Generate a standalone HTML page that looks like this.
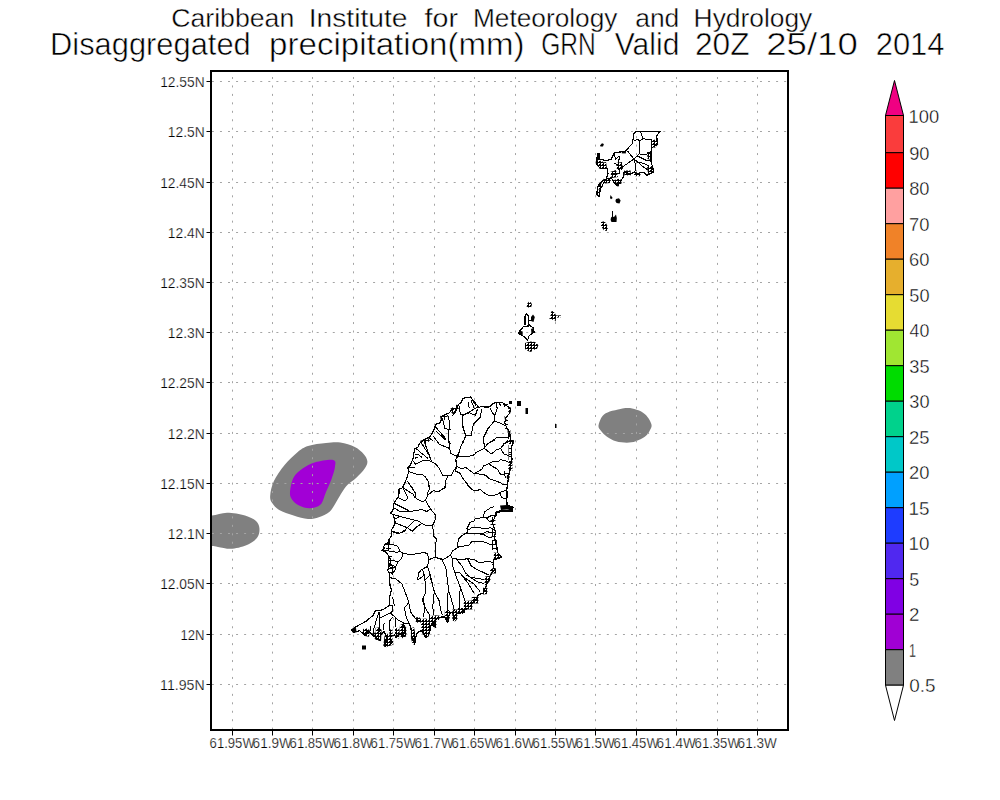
<!DOCTYPE html><html><head><meta charset="utf-8"><title>GrADS precipitation map</title><style>
html,body{margin:0;padding:0;background:#fff;width:1000px;height:800px;overflow:hidden}
svg{display:block}
text{font-family:"Liberation Sans",sans-serif;fill:#000}
</style></head><body>
<svg width="1000" height="800" viewBox="0 0 1000 800">
<rect width="1000" height="800" fill="#fff"/>
<text x="171.2" y="27.2" font-size="26.5" textLength="123.1" lengthAdjust="spacingAndGlyphs" stroke="#fff" stroke-width="0.4">Caribbean</text>
<text x="308.7" y="27.2" font-size="26.5" textLength="98.9" lengthAdjust="spacingAndGlyphs" stroke="#fff" stroke-width="0.4">Institute</text>
<text x="424.6" y="27.2" font-size="26.5" textLength="33.4" lengthAdjust="spacingAndGlyphs" stroke="#fff" stroke-width="0.4">for</text>
<text x="472.9" y="27.2" font-size="26.5" textLength="144.6" lengthAdjust="spacingAndGlyphs" stroke="#fff" stroke-width="0.4">Meteorology</text>
<text x="635.2" y="27.2" font-size="26.5" textLength="44.1" lengthAdjust="spacingAndGlyphs" stroke="#fff" stroke-width="0.4">and</text>
<text x="693.6" y="27.2" font-size="26.5" textLength="118.7" lengthAdjust="spacingAndGlyphs" stroke="#fff" stroke-width="0.4">Hydrology</text>
<text x="50" y="54.6" font-size="32" textLength="200.7" lengthAdjust="spacingAndGlyphs" stroke="#fff" stroke-width="0.55">Disaggregated</text>
<text x="269.1" y="54.6" font-size="32" textLength="255.5" lengthAdjust="spacingAndGlyphs" stroke="#fff" stroke-width="0.55">precipitation(mm)</text>
<text x="541.3" y="54.6" font-size="32" textLength="54.5" lengthAdjust="spacingAndGlyphs" stroke="#fff" stroke-width="0.55">GRN</text>
<text x="614.8" y="54.6" font-size="32" textLength="64.6" lengthAdjust="spacingAndGlyphs" stroke="#fff" stroke-width="0.55">Valid</text>
<text x="694.9" y="54.6" font-size="32" textLength="54.6" lengthAdjust="spacingAndGlyphs" stroke="#fff" stroke-width="0.55">20Z</text>
<text x="766.2" y="54.6" font-size="32" textLength="91.6" lengthAdjust="spacingAndGlyphs" stroke="#fff" stroke-width="0.55">25/10</text>
<text x="875.7" y="54.6" font-size="32" textLength="68.8" lengthAdjust="spacingAndGlyphs" stroke="#fff" stroke-width="0.55">2014</text>
<defs><pattern id="cl" width="3" height="3" patternUnits="userSpaceOnUse"><rect width="3" height="1" fill="#000"/><rect width="1" height="3" fill="#000"/><rect x="2" y="2" width="1" height="1" fill="#000"/></pattern><pattern id="cl2" width="4" height="4" patternUnits="userSpaceOnUse"><rect width="4" height="1" fill="#000"/><rect width="1" height="4" fill="#000"/></pattern><clipPath id="pa"><rect x="212" y="72" width="575" height="657"/></clipPath></defs>
<g clip-path="url(#pa)">
<path d="M270.2,495.6C270.5,492 271.4,486.3 273.8,481.2C276.2,476.1 280.7,469.8 284.6,465C288.5,460.2 293.3,455.6 297.2,452.4C301.1,449.2 303.2,447.6 308,446C312.8,444.4 320.6,443.6 326,443C331.4,442.4 335.6,441.8 340.4,442.5C345.2,443.2 350.9,445.1 354.8,447C358.7,448.9 361.7,451.8 363.8,454.2C365.9,456.6 367.2,459 367.4,461.4C367.5,463.8 366.5,465.9 364.7,468.6C362.9,471.3 359.5,474.9 356.6,477.6C353.8,480.3 350,482.4 347.6,484.8C345.2,487.2 344,489.3 342.2,492C340.4,494.7 338.9,497.7 336.8,501C334.7,504.3 332.6,509.1 329.6,511.8C326.6,514.5 322.4,516 318.8,517.2C315.2,518.4 312.2,519.3 308,519C303.8,518.7 298.4,516.9 293.6,515.4C288.8,513.9 282.8,512.1 279.2,510C275.6,507.9 273.5,505.2 272,502.8C270.5,500.4 269.9,499.2 270.2,495.6Z" fill="#808080"/>
<path d="M290,492C290.3,488.4 291.5,481.5 293.6,477.6C295.7,473.7 299,471.2 302.6,468.6C306.2,466.1 310.1,463.7 315.2,462.3C320.3,460.9 329.9,459.2 333.2,460C336.5,460.8 335.3,463.6 335,466.8C334.7,470 332.9,475.2 331.4,479.4C329.9,483.6 327.8,487.8 326,492C324.2,496.2 323.3,501.9 320.6,504.6C317.9,507.3 313.4,508.1 309.8,508.2C306.2,508.3 302,507 299,505.5C296,504 293.3,501.4 291.8,499.2C290.3,496.9 289.7,495.6 290,492Z" fill="rgb(162,0,214)"/>
<path d="M200,514C201.9,508.9 207.2,515.6 211.7,515.4C216.2,515.2 221.4,512.7 227,512.7C232.6,512.7 240.2,514 245,515.4C249.8,516.8 253.4,518.7 255.8,520.8C258.2,522.9 259.1,525.3 259.4,528C259.7,530.7 259.4,534.3 257.6,537C255.8,539.7 252.8,542.2 248.6,544.2C244.4,546.2 237.5,548.2 232.4,548.7C227.3,549.2 221.4,547.4 218,546.9C214.6,546.4 214.7,546.1 211.7,546C208.7,545.9 201.9,551.3 200,546C198.1,540.7 198.1,519.1 200,514Z" fill="#808080"/>
<path d="M598.5,425.6C598.8,423.2 600.6,418.4 602.5,416.1C604.4,413.8 606.7,412.8 609.7,411.6C612.7,410.4 617.6,409.5 620.5,408.9C623.4,408.3 624.8,408.1 626.8,408C628.8,407.9 629.8,407.9 632.2,408.5C634.6,409.1 638.7,410.2 641.2,411.6C643.8,413 645.8,414.8 647.5,417C649.2,419.2 651.3,422.7 651.6,425.1C651.9,427.5 650.4,429.4 649.3,431.4C648.2,433.3 647,435.1 644.8,436.8C642.5,438.5 638.8,440.3 635.8,441.3C632.8,442.3 630.1,442.7 626.8,442.7C623.5,442.7 619.3,442.3 616,441.3C612.7,440.3 609.5,438.6 607,436.8C604.5,435 602.1,432.4 600.7,430.5C599.3,428.6 598.2,428 598.5,425.6Z" fill="#808080"/>
</g>
<path d="M232.5,72V729M272.5,72V729M312.5,72V729M353.5,72V729M393.5,72V729M434.5,72V729M474.5,72V729M515.5,72V729M555.5,72V729M595.5,72V729M636.5,72V729M676.5,72V729M717.5,72V729M757.5,72V729" stroke="#a4a4a4" stroke-width="1" stroke-dasharray="2 6.45" stroke-dashoffset="3.45" fill="none"/>
<path d="M212,81.5H787M212,131.5H787M212,182.5H787M212,232.5H787M212,282.5H787M212,332.5H787M212,382.5H787M212,433.5H787M212,483.5H787M212,533.5H787M212,583.5H787M212,634.5H787M212,684.5H787" stroke="#a4a4a4" stroke-width="1" stroke-dasharray="2 6.06" stroke-dashoffset="0.12" fill="none"/>
<polyline points="391.9,529.1 394,525.6 395,521.4 394,517.2 392.9,514.4 390.5,513.3 392.9,510.2 393.3,507.4 394,503.2 396.1,499.7 398.2,497.6 398.9,494.1 398.9,489.2 402.4,487.8 404,484.8 405.4,481.3 406.8,478.5 408.9,470.8 407.5,467.3 410.3,465.2 411.7,461.7 413.1,458.2 413.8,454 414.5,449.1 418,447 419.4,443.5 421,441.9 425.2,439.1 429.4,437 431.5,434.2 434.3,429.3 435.7,424.4 440.6,422.6 442,416.7 443.4,415.3 449,413.2 451.8,409.7 456,408 458.8,404.1 461.6,402 462.8,398.5 464.2,398.1 470.5,397.1 474,401.3 478.9,407.6 481.7,406.2 483.8,406.9 489.4,406.9 492.2,404.1 495.7,402.3 502,402.3 505.5,404.8 508.3,406.9 510.4,408.3 509.7,413.2 507.6,415.3 505.5,418.8 504.8,423 506.2,426.5 508.3,430 509.7,432.8 510.4,437 510.4,440.5 513.1,441.4 511.7,447 511.7,454 512,459.6 511,463.8 509.6,469.4 508.9,475 508.2,479.2 507.5,484.8 506.8,489.5 507.1,494 506.8,500 507.1,505.3 513,507 512.5,511 500,511 496.3,511.3 494.8,517.3 492.5,522.5 494,527.8 495.5,531.5 494.5,537.5 496,543.5 497.5,548.8 497.5,552.5 501.3,557 498.3,558.5 493.8,560 493,564.5 494.5,570.5 492.3,572 489.3,577.3 487.5,582.5 485.3,588.5 483,593 477.8,595.3 477,599 474,601.3 471,605 468,608 463.5,611 460.5,613.3 456,614 454.5,617 453.8,620.8 453,612.5 449.3,613.3 447.8,623 444.8,617 441,617 436.5,619.3 433.5,623 435.8,627.5 431.3,624.5 430,630.7 428.3,635.8 425.8,637.5 421.5,630.7 417.3,632.4 415.6,637.5 414.7,644.3 412.2,639.2 411.3,630.7 409.6,623.9 403.7,623 404.5,630.7 402.8,635.8 399.4,634.1 396,637.5 394.3,635 390,635.8 391.8,642.6 389.2,645.2 385,646 386.7,636.7 384.1,631.6 380.7,635 379.9,640.9 377.3,638.4 373,635.8 368.8,630.7 364.6,635 359.5,630.7 353.5,632.4 351.8,629.9 357.8,625.6 362.9,623 367.1,620.5 373,615.4 375.6,610.3 380.7,610.3 385,608.6 389.2,605.2 390,595 391.5,590 390,585.5 389.7,580 389.7,573.4 387.6,570.6 389.7,565 391.1,560.1 389,556.6 386.2,552.4 382,550.3 384.8,548.2 383.4,546.8 386.2,543.3 389,542.6 389,539.1 391.4,536.3 391.9,529.1" fill="none" stroke="#000" stroke-width="1.2" stroke-linejoin="round" shape-rendering="crispEdges"/>
<polyline points="636.4,131.1 660,131.5 656.7,135.6 657.5,144.5 651.9,147.7 651,151.8 651,161.6 652.7,167.2 653.5,172.1 647,175.4 643.7,172.1 637.2,173.7 634,172.1 629.1,174.6 624.2,171.3 623.4,177 620.2,181.9 617,185.9 613.7,181.9 611.2,177.8 604.7,179.4 601.5,181.9 598.2,185.1 597.6,190 596.2,194.4 599.6,196.5 600,190 603,184 606,179 608,173.7 607.2,168.9 599.9,168 596.6,164 597.4,153.4 599,153.4 599,159.1 606.4,160.7 611.2,159.1 614.5,152.6 621.8,151.8 625.9,151 629.1,146.9 632.4,143.7 633.2,138 634,133.1 636.4,131.1" fill="none" stroke="#000" stroke-width="1.2" stroke-linejoin="round" shape-rendering="crispEdges"/>
<polyline points="518.4,332.9 523.4,326.5 530.5,325.8 533.4,327.9 534.1,332.2 529.1,335.7 527.7,340 524.1,336.5 519.8,334.3 518.4,332.9" fill="none" stroke="#000" stroke-width="1.2" stroke-linejoin="round" shape-rendering="crispEdges"/>
<polyline points="525,325 525,316 526.5,313.3 528.5,316 529,325" fill="none" stroke="#000" stroke-width="1.2" stroke-linejoin="round" shape-rendering="crispEdges"/>
<polyline points="462.3,415.3 463,426.5 465.8,435.6 462.3,444" fill="none" stroke="#000" stroke-width="1.0" stroke-linejoin="round" shape-rendering="crispEdges"/>
<polyline points="465.8,435.6 470,435" fill="none" stroke="#000" stroke-width="1.0" stroke-linejoin="round" shape-rendering="crispEdges"/>
<polyline points="458.8,404.1 460.2,413.2 463,415.3 467.2,413.2 470,411" fill="none" stroke="#000" stroke-width="1.0" stroke-linejoin="round" shape-rendering="crispEdges"/>
<polyline points="442,418.1 443.4,421.6 444.8,428.6 449,429.3 451,430" fill="none" stroke="#000" stroke-width="1.0" stroke-linejoin="round" shape-rendering="crispEdges"/>
<polyline points="447.6,414.6 449,419.5 449,430 448.3,439.8 450.4,444" fill="none" stroke="#000" stroke-width="1.0" stroke-linejoin="round" shape-rendering="crispEdges"/>
<polyline points="435.7,427.2 446.2,439.1" fill="none" stroke="#000" stroke-width="1.0" stroke-linejoin="round" shape-rendering="crispEdges"/>
<polyline points="436.4,431.4 445.5,439.8" fill="none" stroke="#000" stroke-width="1.0" stroke-linejoin="round" shape-rendering="crispEdges"/>
<polyline points="432.9,435.6 439.2,444" fill="none" stroke="#000" stroke-width="1.0" stroke-linejoin="round" shape-rendering="crispEdges"/>
<polyline points="429.4,438.4 432.9,440.5" fill="none" stroke="#000" stroke-width="1.0" stroke-linejoin="round" shape-rendering="crispEdges"/>
<polyline points="452.5,416 456,409" fill="none" stroke="#000" stroke-width="1.0" stroke-linejoin="round" shape-rendering="crispEdges"/>
<polyline points="453.9,414.6 458,407" fill="none" stroke="#000" stroke-width="1.0" stroke-linejoin="round" shape-rendering="crispEdges"/>
<polyline points="460,414.6 462.8,415.3 468.4,413.2 474,409 478.2,407" fill="none" stroke="#000" stroke-width="1.0" stroke-linejoin="round" shape-rendering="crispEdges"/>
<polyline points="462.8,415.3 462.8,427.2 465.6,435.6 462.8,444" fill="none" stroke="#000" stroke-width="1.0" stroke-linejoin="round" shape-rendering="crispEdges"/>
<polyline points="465.6,435.6 471.2,435.6 473.3,424.4 480.3,417.4 481.7,409" fill="none" stroke="#000" stroke-width="1.0" stroke-linejoin="round" shape-rendering="crispEdges"/>
<polyline points="468.4,412.5 475.4,415.3 477.5,409" fill="none" stroke="#000" stroke-width="1.0" stroke-linejoin="round" shape-rendering="crispEdges"/>
<polyline points="469.1,407.6 468.4,402" fill="none" stroke="#000" stroke-width="1.0" stroke-linejoin="round" shape-rendering="crispEdges"/>
<polyline points="471.2,400.6 474,407.6" fill="none" stroke="#000" stroke-width="1.0" stroke-linejoin="round" shape-rendering="crispEdges"/>
<polyline points="472.6,399.9 476.1,406.2" fill="none" stroke="#000" stroke-width="1.0" stroke-linejoin="round" shape-rendering="crispEdges"/>
<polyline points="490.1,408.3 492.9,413.2 495,415.3 494.3,420.9 488,428.6 483.1,438.4 483.1,444" fill="none" stroke="#000" stroke-width="1.0" stroke-linejoin="round" shape-rendering="crispEdges"/>
<polyline points="494.3,420.9 499.9,423 505.5,425.8" fill="none" stroke="#000" stroke-width="1.0" stroke-linejoin="round" shape-rendering="crispEdges"/>
<polyline points="495,415.3 497.1,408.3 496.4,402.7" fill="none" stroke="#000" stroke-width="1.0" stroke-linejoin="round" shape-rendering="crispEdges"/>
<polyline points="499.2,403.4 500.6,405.5" fill="none" stroke="#000" stroke-width="1.0" stroke-linejoin="round" shape-rendering="crispEdges"/>
<polyline points="487.3,444 497.8,437 506.9,437.7 510.4,435" fill="none" stroke="#000" stroke-width="1.0" stroke-linejoin="round" shape-rendering="crispEdges"/>
<polyline points="503.4,444 508.3,440.5" fill="none" stroke="#000" stroke-width="1.0" stroke-linejoin="round" shape-rendering="crispEdges"/>
<polyline points="463.4,440 459.2,451.2 457.8,456.8" fill="none" stroke="#000" stroke-width="1.0" stroke-linejoin="round" shape-rendering="crispEdges"/>
<polyline points="457.8,456.8 463.4,456.8 466.9,456.8 474.6,454.7 476,452.6 484.4,448.4 485.1,447 483,440" fill="none" stroke="#000" stroke-width="1.0" stroke-linejoin="round" shape-rendering="crispEdges"/>
<polyline points="485.1,447 487.9,443.5 494.9,440" fill="none" stroke="#000" stroke-width="1.0" stroke-linejoin="round" shape-rendering="crispEdges"/>
<polyline points="484.4,448.4 491.4,454 496.3,449.8 500.5,448.4 504,444.2 509.6,440.7" fill="none" stroke="#000" stroke-width="1.0" stroke-linejoin="round" shape-rendering="crispEdges"/>
<polyline points="500.5,448.4 504,454 508.2,455.4 511,454" fill="none" stroke="#000" stroke-width="1.0" stroke-linejoin="round" shape-rendering="crispEdges"/>
<polyline points="457.8,456.8 455,460.3" fill="none" stroke="#000" stroke-width="1.0" stroke-linejoin="round" shape-rendering="crispEdges"/>
<polyline points="456.4,459.6 457.1,466.6 462,468.7 465.5,467.3 473.9,473.6 481.6,469.4 483.7,465.9 488.6,463.8 494.2,461 498.4,461.7 500.5,459.6 508.2,461.7" fill="none" stroke="#000" stroke-width="1.0" stroke-linejoin="round" shape-rendering="crispEdges"/>
<polyline points="455,468 457.1,466.6" fill="none" stroke="#000" stroke-width="1.0" stroke-linejoin="round" shape-rendering="crispEdges"/>
<polyline points="488.6,463.8 492.8,466.6 497,468.7 500.5,474.3 504,474.3 508.2,472.9" fill="none" stroke="#000" stroke-width="1.0" stroke-linejoin="round" shape-rendering="crispEdges"/>
<polyline points="473.9,473.6 483,474.3 487.2,476.4 488.6,478.5 500.5,482.7 502.6,484.8 507.5,484.8" fill="none" stroke="#000" stroke-width="1.0" stroke-linejoin="round" shape-rendering="crispEdges"/>
<polyline points="455,470.8 460.6,473.6 462,477.1 471.1,489 474.5,491" fill="none" stroke="#000" stroke-width="1.0" stroke-linejoin="round" shape-rendering="crispEdges"/>
<polyline points="504,471.5 505.4,477.8" fill="none" stroke="#000" stroke-width="1.0" stroke-linejoin="round" shape-rendering="crispEdges"/>
<polyline points="425,440 425,445.6 426.4,447 431.3,461" fill="none" stroke="#000" stroke-width="1.0" stroke-linejoin="round" shape-rendering="crispEdges"/>
<polyline points="420.8,442.1 429.2,455.4 431.3,461" fill="none" stroke="#000" stroke-width="1.0" stroke-linejoin="round" shape-rendering="crispEdges"/>
<polyline points="415.9,448.4 421.5,453.3 427.8,458.2" fill="none" stroke="#000" stroke-width="1.0" stroke-linejoin="round" shape-rendering="crispEdges"/>
<polyline points="414.5,454.7 418.7,454.7 422.2,457.5" fill="none" stroke="#000" stroke-width="1.0" stroke-linejoin="round" shape-rendering="crispEdges"/>
<polyline points="414.5,458.2 418,457.5" fill="none" stroke="#000" stroke-width="1.0" stroke-linejoin="round" shape-rendering="crispEdges"/>
<polyline points="413.1,461 415.9,464.5" fill="none" stroke="#000" stroke-width="1.0" stroke-linejoin="round" shape-rendering="crispEdges"/>
<polyline points="415.2,464.5 422.2,461 428.5,460.3 431.3,461.7 435.5,463.8 439,468 442.5,475 451.6,475 453.7,470.1 457.2,468" fill="none" stroke="#000" stroke-width="1.0" stroke-linejoin="round" shape-rendering="crispEdges"/>
<polyline points="408.2,467.3 414.5,467.3" fill="none" stroke="#000" stroke-width="1.0" stroke-linejoin="round" shape-rendering="crispEdges"/>
<polyline points="408.9,471.5 413.1,472.9 418,475 422.2,474.3 425.7,477.1 428.5,482 429.2,489" fill="none" stroke="#000" stroke-width="1.0" stroke-linejoin="round" shape-rendering="crispEdges"/>
<polyline points="407.5,481.3 413.1,489" fill="none" stroke="#000" stroke-width="1.0" stroke-linejoin="round" shape-rendering="crispEdges"/>
<polyline points="448.1,475.7 445.3,482 446,487.6 442.5,489" fill="none" stroke="#000" stroke-width="1.0" stroke-linejoin="round" shape-rendering="crispEdges"/>
<polyline points="436.2,440 439,444.2 449.5,448.4 450.9,453.3 456.5,456.1 455.8,461 457.2,466.6" fill="none" stroke="#000" stroke-width="1.0" stroke-linejoin="round" shape-rendering="crispEdges"/>
<polyline points="449.5,448.4 448.8,440" fill="none" stroke="#000" stroke-width="1.0" stroke-linejoin="round" shape-rendering="crispEdges"/>
<polyline points="456.5,456.1 460,451.2" fill="none" stroke="#000" stroke-width="1.0" stroke-linejoin="round" shape-rendering="crispEdges"/>
<polyline points="403.1,488.5 408,497.6 405.2,501.1 398.2,497.6" fill="none" stroke="#000" stroke-width="1.0" stroke-linejoin="round" shape-rendering="crispEdges"/>
<polyline points="403.1,487.8 412.9,494.1 415,497.6 422,501.8 425.5,500.4" fill="none" stroke="#000" stroke-width="1.0" stroke-linejoin="round" shape-rendering="crispEdges"/>
<polyline points="410.1,485 415.7,493.4 415,497.6" fill="none" stroke="#000" stroke-width="1.0" stroke-linejoin="round" shape-rendering="crispEdges"/>
<polyline points="425.5,500.4 427.6,495.5 427,493.4 429.7,489.2 429,485" fill="none" stroke="#000" stroke-width="1.0" stroke-linejoin="round" shape-rendering="crispEdges"/>
<polyline points="427.6,495.5 433.2,490.6 438.1,492 444.4,487.8 445.8,485" fill="none" stroke="#000" stroke-width="1.0" stroke-linejoin="round" shape-rendering="crispEdges"/>
<polyline points="425.5,500.4 430.4,508.8 436,515.8 434.6,521.4 432.5,525.6 433.9,535 433.8,536.3 436.6,539.1 435.2,546.1 435.2,557.3" fill="none" stroke="#000" stroke-width="1.0" stroke-linejoin="round" shape-rendering="crispEdges"/>
<polyline points="394,503.2 408,510.2 410.1,511.6 422,509.5 426.9,511.6 430.4,508.8" fill="none" stroke="#000" stroke-width="1.0" stroke-linejoin="round" shape-rendering="crispEdges"/>
<polyline points="393.3,507.4 400.3,511.6 410.1,511.6" fill="none" stroke="#000" stroke-width="1.0" stroke-linejoin="round" shape-rendering="crispEdges"/>
<polyline points="392.9,514.4 400.3,516.5 419.2,521.4 422,523.5 426.2,525.6 432.5,525.6" fill="none" stroke="#000" stroke-width="1.0" stroke-linejoin="round" shape-rendering="crispEdges"/>
<polyline points="395.4,518.6 400.3,516.5" fill="none" stroke="#000" stroke-width="1.0" stroke-linejoin="round" shape-rendering="crispEdges"/>
<polyline points="395,522.8 407.3,527.7 413.6,521.4" fill="none" stroke="#000" stroke-width="1.0" stroke-linejoin="round" shape-rendering="crispEdges"/>
<polyline points="407.3,527.7 412.2,531.2 416.4,527 422,523.5" fill="none" stroke="#000" stroke-width="1.0" stroke-linejoin="round" shape-rendering="crispEdges"/>
<polyline points="392.6,531.2 399.6,533.3 404.5,530.5 407.3,527.7" fill="none" stroke="#000" stroke-width="1.0" stroke-linejoin="round" shape-rendering="crispEdges"/>
<polyline points="391.8,531.5 398.1,533.5 403,532.1 405.8,530" fill="none" stroke="#000" stroke-width="1.0" stroke-linejoin="round" shape-rendering="crispEdges"/>
<polyline points="386.2,543.3 396,545.4 398.8,547.5 399.5,551 403,553.1 405.8,553.8 411.4,554.5 417,553.8 424,552.4 427.5,553.8 428.9,559.4 435.2,557.3 443.6,559.4" fill="none" stroke="#000" stroke-width="1.0" stroke-linejoin="round" shape-rendering="crispEdges"/>
<polyline points="384.1,550.3 397.4,552.4 399.5,551" fill="none" stroke="#000" stroke-width="1.0" stroke-linejoin="round" shape-rendering="crispEdges"/>
<polyline points="403,553.1 401.6,558.7 398.1,561.5 393.9,560.8 391.1,560.1" fill="none" stroke="#000" stroke-width="1.0" stroke-linejoin="round" shape-rendering="crispEdges"/>
<polyline points="398.1,561.5 396,566.4 389.7,565" fill="none" stroke="#000" stroke-width="1.0" stroke-linejoin="round" shape-rendering="crispEdges"/>
<polyline points="389.7,567.8 395.3,567.8" fill="none" stroke="#000" stroke-width="1.0" stroke-linejoin="round" shape-rendering="crispEdges"/>
<polyline points="396,566.4 394.6,571.3 391.1,573.4" fill="none" stroke="#000" stroke-width="1.0" stroke-linejoin="round" shape-rendering="crispEdges"/>
<polyline points="428.9,559.4 427.5,566.4 421.2,569.9 418.4,573.4 417.7,580" fill="none" stroke="#000" stroke-width="1.0" stroke-linejoin="round" shape-rendering="crispEdges"/>
<polyline points="422.6,569.9 425.4,580" fill="none" stroke="#000" stroke-width="1.0" stroke-linejoin="round" shape-rendering="crispEdges"/>
<polyline points="427.5,566.4 431.7,580" fill="none" stroke="#000" stroke-width="1.0" stroke-linejoin="round" shape-rendering="crispEdges"/>
<polyline points="389.7,577.6 396,579" fill="none" stroke="#000" stroke-width="1.0" stroke-linejoin="round" shape-rendering="crispEdges"/>
<polyline points="467,485 474.5,491 480.5,489.5 483.5,492.5 488.8,495.5 497,494.8 500,492.5 506,490.3" fill="none" stroke="#000" stroke-width="1.0" stroke-linejoin="round" shape-rendering="crispEdges"/>
<polyline points="500,492.5 501.5,497.8 506,498.5" fill="none" stroke="#000" stroke-width="1.0" stroke-linejoin="round" shape-rendering="crispEdges"/>
<polyline points="446,485 445.3,488 440,490.3" fill="none" stroke="#000" stroke-width="1.0" stroke-linejoin="round" shape-rendering="crispEdges"/>
<polyline points="494,506.8 491,507.5 484.3,512 483.5,517.3 486.5,518 491,515.8 495.5,515" fill="none" stroke="#000" stroke-width="1.0" stroke-linejoin="round" shape-rendering="crispEdges"/>
<polyline points="483.5,517.3 475.3,518.8 473.8,521 470,522.5 467,528.5 467.8,531.5 464,534.5" fill="none" stroke="#000" stroke-width="1.0" stroke-linejoin="round" shape-rendering="crispEdges"/>
<polyline points="486.5,518 489.5,521.8 492.5,521.8" fill="none" stroke="#000" stroke-width="1.0" stroke-linejoin="round" shape-rendering="crispEdges"/>
<polyline points="468.5,530 471.5,527.8 479,527.8 485,528.5 491,527.8 494,530" fill="none" stroke="#000" stroke-width="1.0" stroke-linejoin="round" shape-rendering="crispEdges"/>
<polyline points="467.8,533 475.3,533 482,534.5 486.5,531.5 492.5,533" fill="none" stroke="#000" stroke-width="1.0" stroke-linejoin="round" shape-rendering="crispEdges"/>
<polyline points="430,559.3 435.3,557 442,560 450.3,555.5 452.5,551 457,548 458.5,539 462.3,535.3 467.5,533 482.5,533.8 488.5,537.5 493.8,536.8" fill="none" stroke="#000" stroke-width="1.0" stroke-linejoin="round" shape-rendering="crispEdges"/>
<polyline points="457,547.3 469,545 472,541.3 482.5,541.3 491.5,545" fill="none" stroke="#000" stroke-width="1.0" stroke-linejoin="round" shape-rendering="crispEdges"/>
<polyline points="442,560 445.8,567.5 448,585 448.5,590 447,599 447,608.8 450,612.5" fill="none" stroke="#000" stroke-width="1.0" stroke-linejoin="round" shape-rendering="crispEdges"/>
<polyline points="451.8,555.5 452.5,565.3 454.8,572.8 458.5,582.5 460.5,587.8 459,599 459.8,609.5" fill="none" stroke="#000" stroke-width="1.0" stroke-linejoin="round" shape-rendering="crispEdges"/>
<polyline points="452.5,557.8 461.5,560 467.5,558.5 475,560 479.5,563 486.3,561.5 493,562.3" fill="none" stroke="#000" stroke-width="1.0" stroke-linejoin="round" shape-rendering="crispEdges"/>
<polyline points="456.3,559.2 461.5,565.3 465.3,572.8 470.5,577.3 484,579.5" fill="none" stroke="#000" stroke-width="1.0" stroke-linejoin="round" shape-rendering="crispEdges"/>
<polyline points="467.5,558.5 471.3,566 478.8,570.5 482.5,572 488.5,575" fill="none" stroke="#000" stroke-width="1.0" stroke-linejoin="round" shape-rendering="crispEdges"/>
<polyline points="454.8,572.8 460,572.8 464.5,578.8 467.5,582.5 474,593" fill="none" stroke="#000" stroke-width="1.0" stroke-linejoin="round" shape-rendering="crispEdges"/>
<polyline points="430,576.5 433,585" fill="none" stroke="#000" stroke-width="1.0" stroke-linejoin="round" shape-rendering="crispEdges"/>
<polyline points="417.7,580 424.5,575 426,591.5 422.3,599.8 425.3,608 429.8,615.5" fill="none" stroke="#000" stroke-width="1.0" stroke-linejoin="round" shape-rendering="crispEdges"/>
<polyline points="425.4,580 429.8,575 434.3,591.5 439.5,601.3 440.3,608.8 442.5,615.5" fill="none" stroke="#000" stroke-width="1.0" stroke-linejoin="round" shape-rendering="crispEdges"/>
<polyline points="434.3,591.5 432.8,606.5 433.5,615.5" fill="none" stroke="#000" stroke-width="1.0" stroke-linejoin="round" shape-rendering="crispEdges"/>
<polyline points="448.5,590 453,605 454.5,611" fill="none" stroke="#000" stroke-width="1.0" stroke-linejoin="round" shape-rendering="crispEdges"/>
<polyline points="460.5,587.8 465.8,603.5" fill="none" stroke="#000" stroke-width="1.0" stroke-linejoin="round" shape-rendering="crispEdges"/>
<polyline points="462.8,576.5 474,584 480,591.5" fill="none" stroke="#000" stroke-width="1.0" stroke-linejoin="round" shape-rendering="crispEdges"/>
<polyline points="466.5,575 478.5,582.5 484.5,583.3" fill="none" stroke="#000" stroke-width="1.0" stroke-linejoin="round" shape-rendering="crispEdges"/>
<polyline points="389.2,605.2 392.6,606 392.6,611.2 390,612.9 395.2,617.1 398.6,620.5 403.7,623" fill="none" stroke="#000" stroke-width="1.0" stroke-linejoin="round" shape-rendering="crispEdges"/>
<polyline points="392.6,596.7 394.3,606" fill="none" stroke="#000" stroke-width="1.0" stroke-linejoin="round" shape-rendering="crispEdges"/>
<polyline points="379,612 377.3,617.1 373.9,628.2 373,635.8" fill="none" stroke="#000" stroke-width="1.0" stroke-linejoin="round" shape-rendering="crispEdges"/>
<polyline points="379,612 379.9,632.4" fill="none" stroke="#000" stroke-width="1.0" stroke-linejoin="round" shape-rendering="crispEdges"/>
<polyline points="390,612.9 381.6,617.1 379,617.1" fill="none" stroke="#000" stroke-width="1.0" stroke-linejoin="round" shape-rendering="crispEdges"/>
<polyline points="392.6,617.1 389.2,621.4 389.2,630.7" fill="none" stroke="#000" stroke-width="1.0" stroke-linejoin="round" shape-rendering="crispEdges"/>
<polyline points="396,617.1 395.2,627.3" fill="none" stroke="#000" stroke-width="1.0" stroke-linejoin="round" shape-rendering="crispEdges"/>
<polyline points="384.1,623 383.3,630" fill="none" stroke="#000" stroke-width="1.0" stroke-linejoin="round" shape-rendering="crispEdges"/>
<polyline points="370.5,625.6 370.5,630.7" fill="none" stroke="#000" stroke-width="1.0" stroke-linejoin="round" shape-rendering="crispEdges"/>
<polyline points="406.2,595 408.8,602.7 404.5,607.8 406.2,617.1 409.6,623.9" fill="none" stroke="#000" stroke-width="1.0" stroke-linejoin="round" shape-rendering="crispEdges"/>
<polyline points="408.8,602.7 410.5,612 415.6,618.8 419.8,621.4" fill="none" stroke="#000" stroke-width="1.0" stroke-linejoin="round" shape-rendering="crispEdges"/>
<polyline points="423.2,598.4 424.9,608.6 423.2,617.1" fill="none" stroke="#000" stroke-width="1.0" stroke-linejoin="round" shape-rendering="crispEdges"/>
<polyline points="396,579 402,584 406.2,595" fill="none" stroke="#000" stroke-width="1.0" stroke-linejoin="round" shape-rendering="crispEdges"/>
<polyline points="640.5,131.5 642.9,138.8 639.7,141.2 638.1,139.6 634,140.4" fill="none" stroke="#000" stroke-width="1.0" stroke-linejoin="round" shape-rendering="crispEdges"/>
<polyline points="642.9,138.8 651.9,139.6" fill="none" stroke="#000" stroke-width="1.0" stroke-linejoin="round" shape-rendering="crispEdges"/>
<polyline points="639.7,141.2 639.7,153.4 637.2,155.9 634,159.1" fill="none" stroke="#000" stroke-width="1.0" stroke-linejoin="round" shape-rendering="crispEdges"/>
<polyline points="627.5,151 634,159.1 638.1,162.4 643.7,167.2 648.6,170.5" fill="none" stroke="#000" stroke-width="1.0" stroke-linejoin="round" shape-rendering="crispEdges"/>
<polyline points="634,159.1 630,161.6 623.4,166.4 619.4,165.6 614.5,163.2" fill="none" stroke="#000" stroke-width="1.0" stroke-linejoin="round" shape-rendering="crispEdges"/>
<polyline points="639.7,154.2 647,154.2 650.2,151.8" fill="none" stroke="#000" stroke-width="1.0" stroke-linejoin="round" shape-rendering="crispEdges"/>
<polyline points="637.2,155.9 647,160.7 651,160.7" fill="none" stroke="#000" stroke-width="1.0" stroke-linejoin="round" shape-rendering="crispEdges"/>
<polyline points="634,159.1 635.6,165.6 634.8,172.9" fill="none" stroke="#000" stroke-width="1.0" stroke-linejoin="round" shape-rendering="crispEdges"/>
<polyline points="638.1,162.4 643.7,163.2 648.6,165.6" fill="none" stroke="#000" stroke-width="1.0" stroke-linejoin="round" shape-rendering="crispEdges"/>
<polyline points="619.4,155.9 618.6,163.2" fill="none" stroke="#000" stroke-width="1.0" stroke-linejoin="round" shape-rendering="crispEdges"/>
<polyline points="614.5,152.6 615.3,159.1 619.4,155.9" fill="none" stroke="#000" stroke-width="1.0" stroke-linejoin="round" shape-rendering="crispEdges"/>
<polyline points="623.4,166.4 619.4,168.9 619.4,173.7" fill="none" stroke="#000" stroke-width="1.0" stroke-linejoin="round" shape-rendering="crispEdges"/>
<polyline points="611.2,173.7 619.4,173.7" fill="none" stroke="#000" stroke-width="1.0" stroke-linejoin="round" shape-rendering="crispEdges"/>
<polyline points="612.3,211.3 612.3,217" fill="none" stroke="#000" stroke-width="1.0" stroke-linejoin="round" shape-rendering="crispEdges"/>
<polyline points="529,320 531,320" fill="none" stroke="#000" stroke-width="1.0" stroke-linejoin="round" shape-rendering="crispEdges"/>
<polygon points="527,304 529,301.6 531,302.5 532,304.5 531,307.6 528,307.6 526.2,306" fill="url(#cl)"/>
<polygon points="525,343 530,341.4 535,342 538.4,345 537,349 533,350 531,352.1 528,351 525,349" fill="url(#cl)"/>
<polygon points="551.2,311.5 553,311.1 555,313.5 555.5,315 557,315.6 560.8,315.2 560.8,317.3 556,317.7 555.7,321.7 554.5,320 550.5,319.5 549.2,318.8 550.3,317.5 550.5,314" fill="url(#cl)"/>
<polygon points="651,140 657,139.6 658.4,144 655,147.7 651,147" fill="url(#cl)"/>
<polygon points="647,152 651.5,152 651.5,160 647.5,159" fill="url(#cl)"/>
<polygon points="647,166 653,166 653.5,173 648,174" fill="url(#cl)"/>
<polygon points="624.2,170.5 630.7,170.5 630.7,175.4 624.2,175.4" fill="url(#cl)"/>
<polygon points="634,172.1 640.5,172.1 640.5,176.2 634,176.2" fill="url(#cl)"/>
<polygon points="597,160 602,161 604.7,164 604,168.9 599,168.5 596.6,164" fill="url(#cl)"/>
<polygon points="603,179 608,177.8 611.2,179 610,183 605,183.5" fill="url(#cl)"/>
<polygon points="614,180 620,178.6 621.8,183 618,186.7 614.5,184" fill="url(#cl)"/>
<polygon points="598.5,184 602,183.5 603,187 600,190 597.5,189" fill="url(#cl)"/>
<polygon points="596.5,190 599.5,190 599.6,196.5 596.2,195" fill="url(#cl)"/>
<polygon points="601,222 604.5,221.2 606.5,224 607.9,227 607.5,230.9 604,230.5 601,226" fill="url(#cl)"/>
<polygon points="597.5,154 600,154 600,160 597.5,160" fill="url(#cl)"/>
<polygon points="600,163 606,162 607,168 601,168" fill="url(#cl)"/>
<polygon points="610,172 616,170 618,177 612,178" fill="url(#cl)"/>
<polygon points="616,163 622,162 623,170 617,170" fill="url(#cl)"/>
<polygon points="508,407 511,407.6 510.4,413.2 508.3,413" fill="url(#cl)"/>
<polygon points="504.5,416 507,416 506.9,419.5 504.8,419.5" fill="url(#cl)"/>
<polygon points="507.6,430 510.4,430 510.4,432.8 507.6,432.8" fill="url(#cl)"/>
<polygon points="509,439.8 513.9,440 513.9,444 509,444" fill="url(#cl)"/>
<polygon points="508.2,461 512.4,461 512.4,470.8 508.2,470.8" fill="url(#cl)"/>
<polygon points="506.8,475 509.6,475 509.6,479.2 506.8,479.2" fill="url(#cl)"/>
<polygon points="493.8,552.5 499,553 501.3,557 498,559.3 493.8,559" fill="url(#cl)"/>
<polygon points="490,568.3 496,568.3 496,573.5 490,573.5" fill="url(#cl)"/>
<polygon points="485.5,576.5 490,576.5 490,579.5 485.5,579.5" fill="url(#cl)"/>
<polygon points="484.5,577 490.5,575.5 490.5,580 486.5,585.5 484.5,585" fill="url(#cl)"/>
<polygon points="483,587.8 487.5,587.8 487.5,594 483,594.5" fill="url(#cl)"/>
<polygon points="471.8,597 478.5,596.8 478.5,603.5 472,603.5" fill="url(#cl)"/>
<polygon points="463.5,601 472.5,600.5 472.5,609.5 464,609.5" fill="url(#cl)"/>
<polygon points="457.5,608 465,608 465,614 457.5,614" fill="url(#cl)"/>
<polygon points="452.3,609.5 457.5,609.5 457.5,619 455,621.5 452.3,620" fill="url(#cl)"/>
<polygon points="444.8,610 450,610 450,617 448,622 444.8,617" fill="url(#cl)"/>
<polygon points="435,615.5 439.5,615.5 439.5,620 435,620" fill="url(#cl)"/>
<polygon points="429,616 436.5,615.5 436.5,627.5 433,626 429,622" fill="url(#cl)"/>
<polygon points="421,619 426,618.5 430,621 430,632 428,638 425.8,637.5 422,633 421,626" fill="url(#cl)"/>
<polygon points="414.7,617.5 419,617.1 421.5,619.5 420.5,623 416,622.5" fill="url(#cl)"/>
<polygon points="411,628 414,627.3 415,632 415,644.8 412.5,644 410.9,638" fill="url(#cl)"/>
<polygon points="400,625 403,623.8 406.5,628 406.5,636 403,638.6 400,636 399.5,630" fill="url(#cl)"/>
<polygon points="395,628.5 398,627.7 399.5,631 399,638.6 396,638 395,634" fill="url(#cl)"/>
<polygon points="389.4,629.4 392.5,629.4 392.5,639.5 389.4,639.5" fill="url(#cl)"/>
<polygon points="384.5,636 387.3,633.4 389,636 393.4,641 392.5,645 389,646 385.5,647.4 383.3,646" fill="url(#cl)"/>
<polygon points="375.5,628 379,627.3 381.6,630 381,641.3 378.5,640 376,634" fill="url(#cl)"/>
<polygon points="372.2,633 376,632.4 378,636 380.7,638 380,641 376,640 373,636.5" fill="url(#cl)"/>
<polygon points="363,629 366,628.2 369.7,630 369,636.7 365,636 363,633" fill="url(#cl)"/>
<polygon points="496,511 500,511 500,516 496,516" fill="url(#cl2)"/>
<polygon points="490.5,517 495.5,517 495.5,525 490.5,525" fill="url(#cl2)"/>
<polygon points="491.5,529.5 496,529.5 496,537 491.5,537" fill="url(#cl2)"/>
<polygon points="492,540 497,540 497,550 492,550" fill="url(#cl2)"/>
<polygon points="503,403 508,403 508,407 503,407" fill="url(#cl2)"/>
<polygon points="505,420 508,420 508,429 505,429" fill="url(#cl2)"/>
<polygon points="508,433 511,433 511,439 508,439" fill="url(#cl2)"/>
<polygon points="508.5,445 512,445 512,460 508.5,460" fill="url(#cl2)"/>
<polygon points="450,409 457,404.5 459,409 452,414" fill="url(#cl2)"/>
<polygon points="440,416 447,414 448,419 441,421" fill="url(#cl2)"/>
<polygon points="420,441 428,437.5 430,441 422,445" fill="url(#cl2)"/>
<polygon points="386,544 391,543 391,550 386,551" fill="url(#cl2)"/>
<polygon points="388,556 392,556 392,566 388,566" fill="url(#cl2)"/>
<polygon points="389,566 393,566 393,575 389,575" fill="url(#cl2)"/>
<polygon points="500,505.5 507,505 512.5,507 512.5,510.5 507,509.5 501,510" fill="#000"/>
<polygon points="362,645.5 366,645.5 366,649.5 362,649.5" fill="#000"/>
<polygon points="352,628.5 356,628 356.5,632.5 352.5,632.5" fill="#000"/>
<polygon points="621.8,151 625.9,151 625.9,153.4 621.8,153.4" fill="#000"/>
<polygon points="600,145.5 602,143.3 603.9,144 603,146.5 600.5,146.5" fill="#000"/>
<polygon points="610.5,195 612.7,198 611,199.2 610,198" fill="#000"/>
<polygon points="616,199 619,198.2 620.6,200.5 619.5,203.4 616.5,203 615.4,201" fill="#000"/>
<polygon points="611,217.5 612.3,216.5 614,217 616,214.4 616.8,218 616.5,221.9 611.5,221.9 610.6,220" fill="#000"/>
<polygon points="531,317 533,314.4 534.8,317 533.5,322 531,321" fill="#000"/>
<polygon points="518.4,332.9 520,330.8 522.7,331.5 522.7,335 519.8,334.3" fill="#000"/>
<polygon points="531,329 533.4,327.9 534.1,332.2 531.5,334" fill="#000"/>
<rect x="509" y="401" width="3" height="3" fill="#000"/>
<rect x="517" y="401" width="4" height="5" fill="#000"/>
<rect x="525.5" y="408" width="2.5" height="6" fill="#000"/>
<rect x="555" y="424" width="1.5" height="4" fill="#000"/>
<rect x="211" y="71" width="577" height="659" fill="none" stroke="#000" stroke-width="2"/>
<path d="M232.5,731V735.5M272.5,731V735.5M312.5,731V735.5M353.5,731V735.5M393.5,731V735.5M434.5,731V735.5M474.5,731V735.5M515.5,731V735.5M555.5,731V735.5M595.5,731V735.5M636.5,731V735.5M676.5,731V735.5M717.5,731V735.5M757.5,731V735.5M206.5,81.5H210M206.5,131.5H210M206.5,182.5H210M206.5,232.5H210M206.5,282.5H210M206.5,332.5H210M206.5,382.5H210M206.5,433.5H210M206.5,483.5H210M206.5,533.5H210M206.5,583.5H210M206.5,634.5H210M206.5,684.5H210" stroke="#000" stroke-width="1" fill="none"/>
<text x="209.6" y="747.5" font-size="13.8" textLength="45.2" lengthAdjust="spacingAndGlyphs" stroke="#fff" stroke-width="0.25">61.95W</text>
<text x="252.6" y="747.5" font-size="13.8" textLength="39.2" lengthAdjust="spacingAndGlyphs" stroke="#fff" stroke-width="0.25">61.9W</text>
<text x="289.6" y="747.5" font-size="13.8" textLength="45.2" lengthAdjust="spacingAndGlyphs" stroke="#fff" stroke-width="0.25">61.85W</text>
<text x="333.6" y="747.5" font-size="13.8" textLength="39.2" lengthAdjust="spacingAndGlyphs" stroke="#fff" stroke-width="0.25">61.8W</text>
<text x="370.6" y="747.5" font-size="13.8" textLength="45.2" lengthAdjust="spacingAndGlyphs" stroke="#fff" stroke-width="0.25">61.75W</text>
<text x="414.6" y="747.5" font-size="13.8" textLength="39.2" lengthAdjust="spacingAndGlyphs" stroke="#fff" stroke-width="0.25">61.7W</text>
<text x="451.6" y="747.5" font-size="13.8" textLength="45.2" lengthAdjust="spacingAndGlyphs" stroke="#fff" stroke-width="0.25">61.65W</text>
<text x="495.6" y="747.5" font-size="13.8" textLength="39.2" lengthAdjust="spacingAndGlyphs" stroke="#fff" stroke-width="0.25">61.6W</text>
<text x="532.6" y="747.5" font-size="13.8" textLength="45.2" lengthAdjust="spacingAndGlyphs" stroke="#fff" stroke-width="0.25">61.55W</text>
<text x="575.6" y="747.5" font-size="13.8" textLength="39.2" lengthAdjust="spacingAndGlyphs" stroke="#fff" stroke-width="0.25">61.5W</text>
<text x="613.6" y="747.5" font-size="13.8" textLength="45.2" lengthAdjust="spacingAndGlyphs" stroke="#fff" stroke-width="0.25">61.45W</text>
<text x="656.6" y="747.5" font-size="13.8" textLength="39.2" lengthAdjust="spacingAndGlyphs" stroke="#fff" stroke-width="0.25">61.4W</text>
<text x="694.6" y="747.5" font-size="13.8" textLength="45.2" lengthAdjust="spacingAndGlyphs" stroke="#fff" stroke-width="0.25">61.35W</text>
<text x="737.6" y="747.5" font-size="13.8" textLength="39.2" lengthAdjust="spacingAndGlyphs" stroke="#fff" stroke-width="0.25">61.3W</text>
<text x="160.2" y="86.5" font-size="14.5" textLength="44.4" lengthAdjust="spacingAndGlyphs" stroke="#fff" stroke-width="0.25">12.55N</text>
<text x="167.8" y="136.5" font-size="14.5" textLength="36.9" lengthAdjust="spacingAndGlyphs" stroke="#fff" stroke-width="0.25">12.5N</text>
<text x="160.2" y="187.5" font-size="14.5" textLength="44.4" lengthAdjust="spacingAndGlyphs" stroke="#fff" stroke-width="0.25">12.45N</text>
<text x="167.8" y="237.5" font-size="14.5" textLength="36.9" lengthAdjust="spacingAndGlyphs" stroke="#fff" stroke-width="0.25">12.4N</text>
<text x="160.2" y="287.5" font-size="14.5" textLength="44.4" lengthAdjust="spacingAndGlyphs" stroke="#fff" stroke-width="0.25">12.35N</text>
<text x="167.8" y="337.5" font-size="14.5" textLength="36.9" lengthAdjust="spacingAndGlyphs" stroke="#fff" stroke-width="0.25">12.3N</text>
<text x="160.2" y="387.5" font-size="14.5" textLength="44.4" lengthAdjust="spacingAndGlyphs" stroke="#fff" stroke-width="0.25">12.25N</text>
<text x="167.8" y="438.5" font-size="14.5" textLength="36.9" lengthAdjust="spacingAndGlyphs" stroke="#fff" stroke-width="0.25">12.2N</text>
<text x="160.2" y="488.5" font-size="14.5" textLength="44.4" lengthAdjust="spacingAndGlyphs" stroke="#fff" stroke-width="0.25">12.15N</text>
<text x="167.8" y="538.5" font-size="14.5" textLength="36.9" lengthAdjust="spacingAndGlyphs" stroke="#fff" stroke-width="0.25">12.1N</text>
<text x="160.2" y="588.5" font-size="14.5" textLength="44.4" lengthAdjust="spacingAndGlyphs" stroke="#fff" stroke-width="0.25">12.05N</text>
<text x="180.5" y="639.5" font-size="14.5" textLength="24.1" lengthAdjust="spacingAndGlyphs" stroke="#fff" stroke-width="0.25">12N</text>
<text x="160.1" y="689.5" font-size="14.5" textLength="44.5" lengthAdjust="spacingAndGlyphs" stroke="#fff" stroke-width="0.25">11.95N</text>
<polygon points="885.5,115.5 894.5,80.5 903.5,115.5" fill="rgb(240,0,130)" stroke="#000" stroke-width="1"/>
<rect x="885.5" y="115.5" width="18" height="37.2" fill="rgb(250,60,60)" stroke="#000" stroke-width="1"/>
<rect x="885.5" y="152.7" width="18" height="35.5" fill="rgb(255,0,0)" stroke="#000" stroke-width="1"/>
<rect x="885.5" y="188.2" width="18" height="35.5" fill="rgb(255,160,160)" stroke="#000" stroke-width="1"/>
<rect x="885.5" y="223.7" width="18" height="35.5" fill="rgb(240,130,40)" stroke="#000" stroke-width="1"/>
<rect x="885.5" y="259.2" width="18" height="35.5" fill="rgb(230,175,45)" stroke="#000" stroke-width="1"/>
<rect x="885.5" y="294.7" width="18" height="35.5" fill="rgb(230,220,50)" stroke="#000" stroke-width="1"/>
<rect x="885.5" y="330.2" width="18" height="35.5" fill="rgb(160,230,50)" stroke="#000" stroke-width="1"/>
<rect x="885.5" y="365.7" width="18" height="35.5" fill="rgb(0,220,0)" stroke="#000" stroke-width="1"/>
<rect x="885.5" y="401.2" width="18" height="35.5" fill="rgb(0,210,140)" stroke="#000" stroke-width="1"/>
<rect x="885.5" y="436.7" width="18" height="35.5" fill="rgb(0,200,200)" stroke="#000" stroke-width="1"/>
<rect x="885.5" y="472.2" width="18" height="35.5" fill="rgb(0,160,255)" stroke="#000" stroke-width="1"/>
<rect x="885.5" y="507.7" width="18" height="35.5" fill="rgb(30,60,255)" stroke="#000" stroke-width="1"/>
<rect x="885.5" y="543.2" width="18" height="35.5" fill="rgb(80,40,240)" stroke="#000" stroke-width="1"/>
<rect x="885.5" y="578.7" width="18" height="35.5" fill="rgb(128,0,228)" stroke="#000" stroke-width="1"/>
<rect x="885.5" y="614.2" width="18" height="35.5" fill="rgb(160,0,212)" stroke="#000" stroke-width="1"/>
<rect x="885.5" y="649.7" width="18" height="35.5" fill="rgb(128,128,128)" stroke="#000" stroke-width="1"/>
<polygon points="885.5,685.2 894.5,720.5 903.5,685.2" fill="#fff" stroke="#000" stroke-width="1"/>
<text x="908.6" y="122.7" font-size="19" textLength="30.6" lengthAdjust="spacingAndGlyphs" stroke="#fff" stroke-width="0.4">100</text>
<text x="909.2" y="159.9" font-size="19" textLength="20.3" lengthAdjust="spacingAndGlyphs" stroke="#fff" stroke-width="0.4">90</text>
<text x="909.2" y="195.4" font-size="19" textLength="20.3" lengthAdjust="spacingAndGlyphs" stroke="#fff" stroke-width="0.4">80</text>
<text x="909.1" y="230.9" font-size="19" textLength="20.4" lengthAdjust="spacingAndGlyphs" stroke="#fff" stroke-width="0.4">70</text>
<text x="909.1" y="266.4" font-size="19" textLength="20.4" lengthAdjust="spacingAndGlyphs" stroke="#fff" stroke-width="0.4">60</text>
<text x="909.3" y="301.9" font-size="19" textLength="20.2" lengthAdjust="spacingAndGlyphs" stroke="#fff" stroke-width="0.4">50</text>
<text x="909.6" y="337.4" font-size="19" textLength="19.8" lengthAdjust="spacingAndGlyphs" stroke="#fff" stroke-width="0.4">40</text>
<text x="909.3" y="372.9" font-size="19" textLength="20.3" lengthAdjust="spacingAndGlyphs" stroke="#fff" stroke-width="0.4">35</text>
<text x="909.3" y="408.4" font-size="19" textLength="20.2" lengthAdjust="spacingAndGlyphs" stroke="#fff" stroke-width="0.4">30</text>
<text x="909.1" y="443.9" font-size="19" textLength="20.5" lengthAdjust="spacingAndGlyphs" stroke="#fff" stroke-width="0.4">25</text>
<text x="909.1" y="479.4" font-size="19" textLength="20.4" lengthAdjust="spacingAndGlyphs" stroke="#fff" stroke-width="0.4">20</text>
<text x="908.6" y="514.9" font-size="19" textLength="21" lengthAdjust="spacingAndGlyphs" stroke="#fff" stroke-width="0.4">15</text>
<text x="908.6" y="550.4" font-size="19" textLength="20.9" lengthAdjust="spacingAndGlyphs" stroke="#fff" stroke-width="0.4">10</text>
<text x="909.3" y="585.9" font-size="19" textLength="10" lengthAdjust="spacingAndGlyphs" stroke="#fff" stroke-width="0.4">5</text>
<text x="909.1" y="621.4" font-size="19" textLength="10.4" lengthAdjust="spacingAndGlyphs" stroke="#fff" stroke-width="0.4">2</text>
<text x="909.1" y="656.9" font-size="19" textLength="7" lengthAdjust="spacingAndGlyphs" stroke="#fff" stroke-width="0.4">1</text>
<text x="909.2" y="692.4" font-size="19" textLength="26.3" lengthAdjust="spacingAndGlyphs" stroke="#fff" stroke-width="0.4">0.5</text>
</svg></body></html>
